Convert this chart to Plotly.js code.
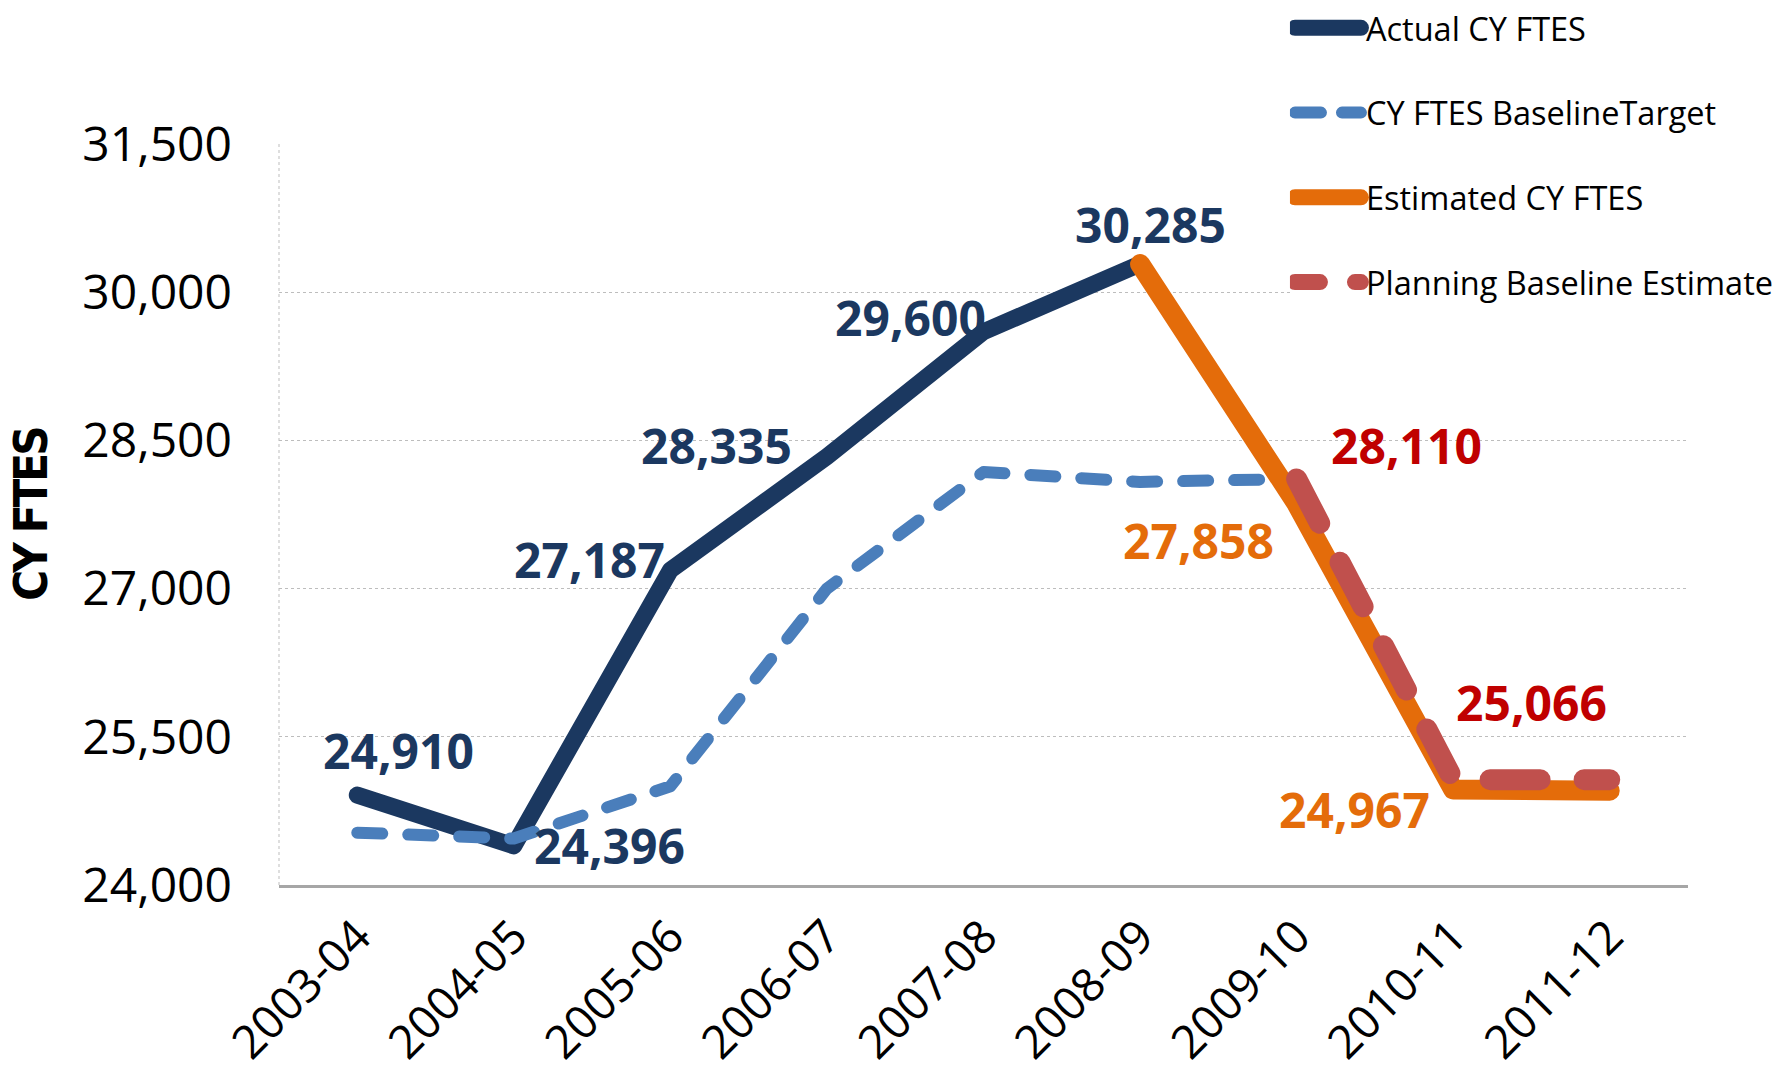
<!DOCTYPE html>
<html><head><meta charset="utf-8">
<script src="https://cdn.plot.ly/plotly-3.0.1.min.js"></script>
<style>
html,body{margin:0;padding:0;background:#fff;}
#chart{width:1791px;height:1077px;}
.js-line{stroke-linecap:round;stroke-linejoin:round;}
.ytitle{letter-spacing:-3px;}
</style></head><body><div id="chart"></div>
<script>
const categories = ['2003-04','2004-05','2005-06','2006-07','2007-08','2008-09','2009-10','2010-11','2011-12'];
const actualFTES       = [24910, 24396, 27187, 28335, 29600, 30285, null, null, null];
const baselineTarget   = [24530, 24470, 25000, 27000, 28180, 28080, 28110, null, null];
const estimatedFTES    = [null, null, null, null, null, 30285, 27858, 24967, 24955];
const planningEstimate = [null, null, null, null, null, null, 28110, 25066, 25066];
const yTickValues = [24000, 25500, 27000, 28500, 30000, 31500];

const seriesNames = ['Actual CY FTES','CY FTES BaselineTarget','Estimated CY FTES','Planning Baseline Estimate'];
const navy = '#1B3860', blue = '#4A7EBB', orange = '#E46C0A', red = '#C0504D';

const traces = [
  {x: categories, y: actualFTES, name: seriesNames[0], legendgroup:'a', mode:'lines',
   line:{color:navy, width:17}},
  {x: categories, y: baselineTarget, name: seriesNames[1], legendgroup:'b', mode:'lines',
   line:{color:blue, width:12, dash:'25px,26px'}},
  {x: categories, y: estimatedFTES, name: seriesNames[2], legendgroup:'c', mode:'lines',
   line:{color:orange, width:20}},
  {x: categories, y: planningEstimate, name: seriesNames[3], legendgroup:'d', mode:'lines',
   line:{color:red, width:21, dash:'50px,44px'}}
];

// legend sample styling (style only): width, dash
const legendLineStyle = [[16, null], [12, '26px,21px'], [16, null], [16, '25px,35px']];

const labelFont = {family:'Open Sans', size:48, weight:700};
const fmt = v => v.toLocaleString('en-US');
const annotations = [];
function addLabels(vals, color, offsets){
  offsets.forEach(([i, dx, dy]) => {
    annotations.push({x: categories[i], y: vals[i], text: fmt(vals[i]), showarrow:false,
      xshift: dx, yshift: -dy, font: Object.assign({color: color}, labelFont)});
  });
}
addLabels(actualFTES, navy, [[0,41,-45],[1,96,0],[2,-81,-11],[3,-110,-11],[4,-73,-14],[5,10,-40]]);
addLabels(estimatedFTES, orange, [[6,-98,37],[7,-99,20]]);
addLabels(planningEstimate, '#C00000', [[6,110,-33],[7,78,-77]]);

const layout = {
  width:1791, height:1077,
  margin:{l:279, r:103, t:144, b:192, autoexpand:false},
  paper_bgcolor:'#fff', plot_bgcolor:'#fff',
  showlegend:true,
  legend:{x:0.7175, y:1.194, xanchor:'left', yanchor:'top', bgcolor:'#fff',
    font:{family:'Open Sans', size:32.5, color:'#000'}, itemwidth:66,
    traceorder:'grouped', tracegroupgap:39.5},
  xaxis:{type:'category', range:[-0.5, 8.5], showgrid:false, zeroline:false,
    showline:true, linecolor:'#A6A6A6', linewidth:3, ticks:'', ticklabelstandoff:3,
    tickangle:-45, tickfont:{family:'Open Sans', size:46, color:'#000'}},
  yaxis:{range:[24000, 31500], tickvals:yTickValues, ticktext:yTickValues.map(fmt),
    showgrid:true, gridcolor:'#BDBDBD', gridwidth:1, griddash:'dot',
    zeroline:false, showline:false, ticks:'', ticklabelstandoff:46,
    tickfont:{family:'Open Sans', size:48, color:'#000'},
    title:{text:'CY FTES', standoff:19,
      font:{family:'Liberation Sans Narrow, DejaVu Sans Condensed, sans-serif', size:47, weight:700, color:'#000'}}},
  shapes:[{type:'line', xref:'paper', yref:'paper', x0:0, x1:0, y0:0, y1:1,
    line:{color:'#BDBDBD', width:1, dash:'dot'}, layer:'below'}],
  annotations: annotations
};
Plotly.newPlot('chart', traces, layout, {displayModeBar:false, staticPlot:true}).then(gd => {
  gd.querySelectorAll('.legend .traces').forEach((t, i) => {
    const s = legendLineStyle[i]; if (!s) return;
    t.querySelectorAll('path.js-line').forEach(p => {
      p.style.strokeWidth = s[0] + 'px';
      if (s[1]) p.style.strokeDasharray = s[1];
    });
  });
});
</script></body></html>
